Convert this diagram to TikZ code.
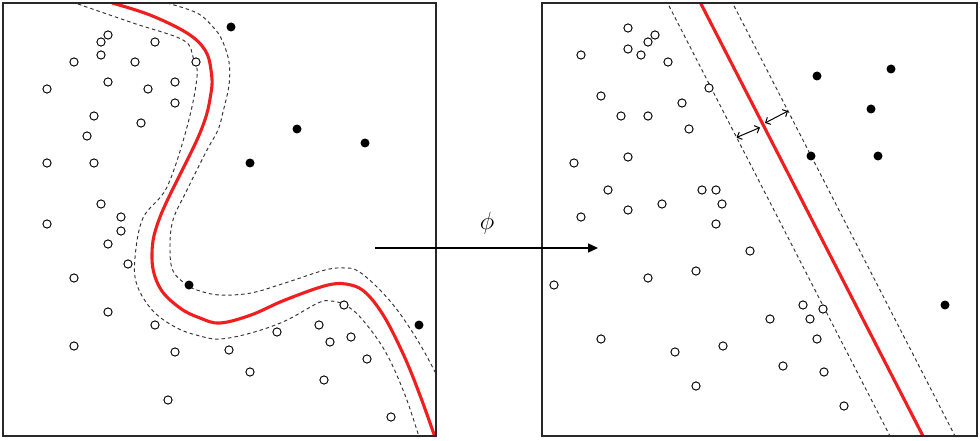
\documentclass[tikz,border=0pt]{standalone}
\usetikzlibrary{arrows.meta}
\definecolor{svmred}{RGB}{240,30,30}
\definecolor{framec}{RGB}{40,40,40}
\begin{document}
\begin{tikzpicture}[x=1pt,y=-1pt,
  frame/.style={draw=framec,line width=1.4pt},
  opt/.style={circle,draw=black,fill=white,line width=0.95pt,inner sep=0pt,minimum size=8.2pt},
  fpt/.style={circle,fill=black,inner sep=0pt,minimum size=9pt},
  sep/.style={draw=svmred,line width=3.1pt},
  marg/.style={draw=black!80,line width=0.95pt,dash pattern=on 3.5pt off 3pt},
  width arrow/.style={{Straight Barb[length=4pt,width=8pt]}-{Straight Barb[length=4pt,width=8pt]},line width=1pt}]
\useasboundingbox (0,0) rectangle (980,441);
\fill[white] (0,0) rectangle (980,441);
% ---------- left panel ----------
\begin{scope}
\clip (3,3) rectangle (436,436);
\draw[sep] plot[smooth,tension=0.6] coordinates {(112,3) (150,15) (187,33) (205,50) (211,70) (211,93) (200,133) (160,217) (152,258) (160,288) (180,308) (200,318) (220,323) (251,315) (285,300) (328,285) (351,285) (367,294) (385,318) (405,358) (421,398) (436,440)};
\draw[marg] plot[smooth,tension=0.6] coordinates {(78,4) (133,23) (183,40) (193,57) (197,77) (187,127) (167,187) (143,218) (135,258) (137,285) (153,311) (177,328) (200,336) (220,339) (251,333) (285,321) (318,303) (331,301) (345,305) (361,318) (385,351) (405,395) (420,440)};
\draw[marg] plot[smooth,tension=0.6] coordinates {(167,3) (197,13) (213,27) (222,40) (229,62) (229,85) (223,112) (218,130) (207,150) (187,190) (173,220) (170,248) (173,271) (187,285) (200,291) (220,295) (251,293) (285,283) (325,270) (345,268) (358,271) (378,288) (398,311) (418,341) (433,368) (445,392)};
\end{scope}
\draw[frame] (3,3) rectangle (436,436);
\foreach \x/\y [count=\i] in {108/35,101/42,155/42,101/55,74/62,135/62,196/62,108/82,175/82,47/89,148/89,175/103,94/116,141/123,87/136,47/163,94/163,101/204,121/217,47/224,121/231,108/244,128/264,74/278,108/312,155/325,74/346,175/352,168/400,344/305,319/325,277/332,330/342,351/337,229/350,367/359,250/372,324/380,391/417}
  \node[opt] (lo\i) at (\x,\y) {};
\foreach \x/\y [count=\i] in {231/27,297/129,365/143,250/163,189/285,419/325}
  \node[fpt] (lf\i) at (\x,\y) {};
% ---------- right panel ----------
\begin{scope}
\clip (542,3) rectangle (977,436);
\draw[sep] (699,0) -- (924,438);
\draw[marg] (666,0) -- (891,438);
\draw[marg] (731,0) -- (956,438);
\end{scope}
\draw[frame] (542,3) rectangle (977,436);
\foreach \x/\y [count=\i] in {628/28,655/35,648/42,628/49,581/55,641/55,668/62,709/88,601/96,682/103,621/116,648/116,689/129,628/157,574/163,608/190,702/190,716/190,662/204,722/204,628/210,581/217,716/224,750/251,696/271,648/278,554/285,601/339,723/346,675/352,696/386,803/305,823/309,770/319,810/319,817/339,783/366,824/372,844/406}
  \node[opt] (ro\i) at (\x,\y) {};
\foreach \x/\y [count=\i] in {817/76,891/69,871/109,811/156,878/156,945/305}
  \node[fpt] (rf\i) at (\x,\y) {};
\coordinate (mL) at (736.5,137.5);
\coordinate (mC1) at (760,127.5);
\coordinate (mC2) at (765,123);
\coordinate (mR) at (788,111);
\draw[width arrow] (mL) -- (mC1);
\draw[width arrow] (mC2) -- (mR);
% ---------- mapping arrow ----------
\coordinate (mapS) at (375,248);
\coordinate (mapE) at (598,248);
\draw[line width=1.4pt,-{Triangle[length=10pt,width=9pt]}] (mapS) -- (mapE);
\node (phi) at (487,223) {\fontsize{24}{28}\selectfont$\phi$};
\end{tikzpicture}
\end{document}
